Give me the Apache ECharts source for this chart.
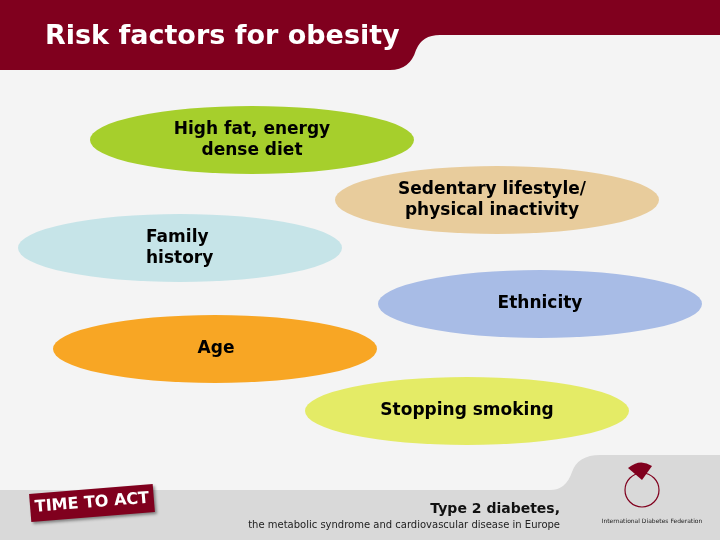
<!DOCTYPE html>
<html>
<head>
<meta charset="utf-8">
<script src="https://cdn.jsdelivr.net/npm/echarts@6/dist/echarts.min.js"></script>
<style>html,body{margin:0;padding:0;background:#f4f4f4}#main{width:720px;height:540px}</style>
</head>
<body>
<div id="main"></div>
<script>
// risk factors, drawn as ellipses on a page-sized coordinate grid
var factors = ['High fat, energy\ndense diet', 'Sedentary lifestyle/\nphysical inactivity', 'Family\nhistory', 'Ethnicity', 'Age', 'Stopping smoking'];
var centerX = [252, 497, 180, 540, 215, 467];
var centerY = [140, 200, 248, 304, 349, 411];
var colors = ['#a6cf2c', '#e8cc9c', '#c6e4e8', '#a8bce6', '#f8a624', '#e4eb66'];
var textAlign = ['center', 'center', 'left', 'center', 'center', 'center'];
var textX = [252, 492, 146, 540, 216, 467];

var data = factors.map(function(f, i) { return [centerX[i], centerY[i], i]; });

function renderFrame() {
	return {
		type: 'group',
		children: [
			{ type: 'path', shape: { pathData: 'M0 0 L720 0 L720 35 L440 35 Q422 35 416 50 Q410 70 390 70 L0 70 Z' }, style: { fill: '#80001e' } },
			{ type: 'text', style: { text: 'Risk factors for obesity', x: 45, y: 37, verticalAlign: 'middle', fill: '#fff', font: 'bold 27px "DejaVu Sans"' } },
			{ type: 'path', shape: { pathData: 'M0 490 L550 490 Q566 490 572 472 Q578 455 600 455 L720 455 L720 540 L0 540 Z' }, style: { fill: '#d9d9d9' } },
			{ type: 'group', x: 92, y: 503, rotation: 0.08, children: [
				{ type: 'rect', shape: { x: -62, y: -14, width: 124, height: 28 }, style: { fill: '#80001e', shadowBlur: 3, shadowColor: 'rgba(0,0,0,0.4)', shadowOffsetX: 2, shadowOffsetY: 2 } },
				{ type: 'text', style: { text: 'TIME TO ACT', x: 0, y: 0, align: 'center', verticalAlign: 'middle', fill: '#fff', font: 'bold 16px "DejaVu Sans"' } }
			] },
			{ type: 'text', style: { text: 'Type 2 diabetes,', x: 560, y: 509, align: 'right', verticalAlign: 'middle', fill: '#111', font: 'bold 14px "DejaVu Sans"' } },
			{ type: 'text', style: { text: 'the metabolic syndrome and cardiovascular disease in Europe', x: 560, y: 525, align: 'right', verticalAlign: 'middle', fill: '#222', font: '10px "DejaVu Sans"' } },
			{ type: 'circle', shape: { cx: 642, cy: 490, r: 17 }, style: { fill: 'none', stroke: '#80001e', lineWidth: 1.2 } },
			{ type: 'path', shape: { pathData: 'M628 468 Q640 458 652 466 L642 480 Z' }, style: { fill: '#80001e' } },
			{ type: 'text', style: { text: 'International Diabetes Federation', x: 652, y: 521, align: 'center', verticalAlign: 'middle', fill: '#222', font: '6px "DejaVu Sans"' } }
		]
	};
}

var chart = echarts.init(document.getElementById('main'));
chart.setOption({
	backgroundColor: '#f4f4f4',
	animation: false,
	grid: { left: 0, right: 0, top: 0, bottom: 0 },
	xAxis: { type: 'value', min: 0, max: 720, show: false },
	yAxis: { type: 'value', min: 0, max: 540, inverse: true, show: false },
	series: [{
		type: 'custom',
		data: [[0, 0]],
		renderItem: renderFrame
	}, {
		type: 'custom',
		data: data,
		renderItem: function(params, api) {
			var i = api.value(2);
			var c = api.coord([api.value(0), api.value(1)]);
			var t = api.coord([textX[i], api.value(1)]);
			return {
				type: 'group',
				children: [
					{ type: 'circle', x: c[0], y: c[1], scaleY: 34 / 162, shape: { cx: 0, cy: 0, r: 162 }, style: { fill: colors[i] } },
					{ type: 'text', style: { text: factors[i], x: t[0], y: t[1], align: textAlign[i], verticalAlign: 'middle', fill: '#000', font: '600 17px "DejaVu Sans"', lineHeight: 21 } }
				]
			};
		}
	}]
});
</script>
</body>
</html>
